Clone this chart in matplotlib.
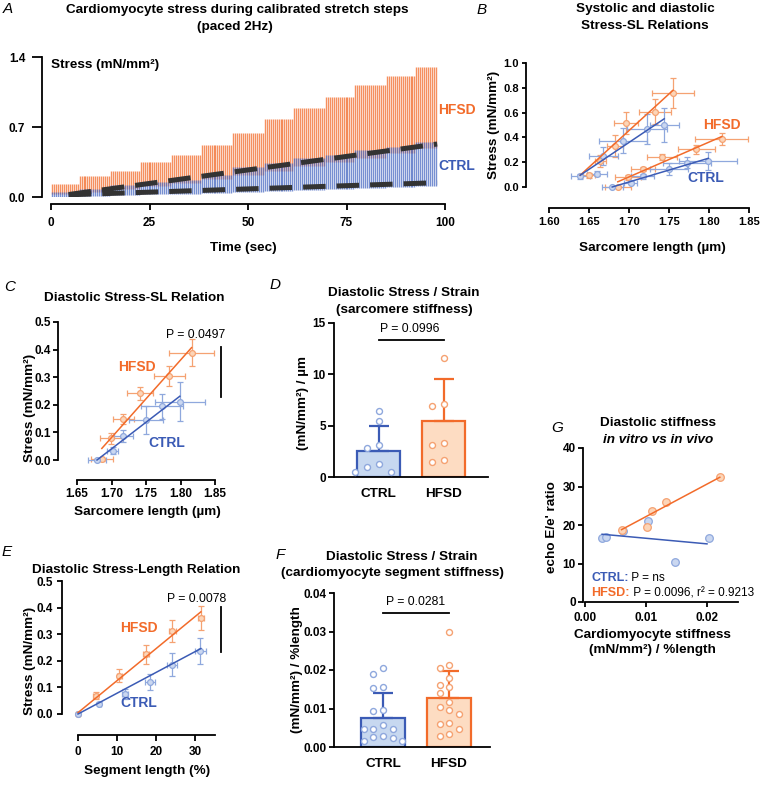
import numpy as np
import matplotlib
matplotlib.use("Agg")
import matplotlib.pyplot as plt

plt.rcParams['font.family'] = ['Liberation Sans', 'DejaVu Sans']
plt.rcParams['font.weight'] = 'bold'
plt.rcParams['axes.labelweight'] = 'bold'

# ======================= DATA =======================
# A: cardiomyocyte stress trace during stretch steps (levels per step, mN/mm2)
step_start_s = [0, 7.2, 15.0, 22.6, 30.3, 38.0, 45.9, 53.8, 61.7, 69.5, 77.2, 84.9, 92.6]
trace_end_s = 98
pacing_hz = 2
hfsd_systolic = [0.13, 0.21, 0.26, 0.35, 0.42, 0.52, 0.64, 0.78, 0.89, 1.00, 1.12, 1.21, 1.30]
hfsd_diastolic = [0.03, 0.05, 0.08, 0.11, 0.14, 0.18, 0.22, 0.26, 0.31, 0.35, 0.39, 0.44, 0.49]
ctrl_systolic = [0.05, 0.08, 0.12, 0.15, 0.17, 0.22, 0.30, 0.34, 0.39, 0.42, 0.47, 0.50, 0.55]
ctrl_diastolic = [0.00, 0.01, 0.02, 0.03, 0.03, 0.04, 0.05, 0.06, 0.07, 0.08, 0.09, 0.10, 0.11]
fit_time = [4.5, 98]
hfsd_dia_fit = [0.025, 0.53]
ctrl_dia_fit = [0.022, 0.143]

# B: systolic stress-SL
sys_hfsd_sl = [1.650, 1.664, 1.682, 1.696, 1.732, 1.755]
sys_hfsd_stress = [0.095, 0.208, 0.332, 0.514, 0.608, 0.757]
sys_hfsd_sl_err = [0.007, 0.007, 0.010, 0.015, 0.020, 0.026]
sys_hfsd_stress_err = [0.02, 0.05, 0.09, 0.09, 0.10, 0.12]
sys_ctrl_sl = [1.639, 1.660, 1.668, 1.692, 1.722, 1.744]
sys_ctrl_stress = [0.086, 0.108, 0.249, 0.373, 0.465, 0.500]
sys_ctrl_sl_err = [0.012, 0.013, 0.018, 0.030, 0.025, 0.018]
sys_ctrl_stress_err = [0.02, 0.02, 0.07, 0.10, 0.12, 0.14]
sys_hfsd_fit_sl = [1.639, 1.755]
sys_hfsd_fit_stress = [0.095, 0.78]
sys_ctrl_fit_sl = [1.639, 1.744]
sys_ctrl_fit_stress = [0.095, 0.55]

# B + C: diastolic stress-SL
dia_hfsd_sl = [1.686, 1.699, 1.717, 1.741, 1.784, 1.816]
dia_hfsd_stress = [0.002, 0.078, 0.147, 0.241, 0.304, 0.388]
dia_hfsd_sl_err = [0.016, 0.016, 0.015, 0.019, 0.023, 0.033]
dia_hfsd_stress_err = [0.005, 0.020, 0.018, 0.024, 0.036, 0.049]
dia_ctrl_sl = [1.679, 1.702, 1.717, 1.750, 1.773, 1.799]
dia_ctrl_stress = [0.000, 0.034, 0.087, 0.145, 0.195, 0.211]
dia_ctrl_sl_err = [0.013, 0.008, 0.014, 0.024, 0.030, 0.036]
dia_ctrl_stress_err = [0.004, 0.012, 0.020, 0.050, 0.045, 0.070]
dia_hfsd_fit_sl = [1.686, 1.816]
dia_hfsd_fit_stress = [0.042, 0.407]
dia_ctrl_fit_sl = [1.679, 1.799]
dia_ctrl_fit_stress = [0.0, 0.231]
p_dia_sl = "P = 0.0497"

# D: sarcomere stiffness
groups = ["CTRL", "HFSD"]
sarc_stiff_ctrl = [6.4, 5.42, 3.14, 2.81, 1.27, 0.95, 0.52, 0.52]
sarc_stiff_hfsd = [11.6, 7.1, 6.9, 3.3, 3.1, 1.7, 1.5]
sarc_stiff_mean = [2.58, 5.49]
sarc_stiff_sd = [2.35, 4.10]
p_sarc = "P = 0.0996"

# E: diastolic stress - segment length
seg_hfsd_len = [0, 4.5, 10.6, 17.4, 24.2, 31.5]
seg_hfsd_stress = [0.0, 0.069, 0.144, 0.224, 0.3125, 0.361]
seg_hfsd_len_err = [0, 0.6, 0.6, 0.8, 0.8, 0.8]
seg_hfsd_stress_err = [0.0, 0.012, 0.025, 0.035, 0.040, 0.045]
seg_ctrl_len = [0, 5.5, 12.0, 18.5, 24.1, 31.4]
seg_ctrl_stress = [0.0, 0.039, 0.075, 0.121, 0.186, 0.2375]
seg_ctrl_len_err = [0, 0.5, 0.8, 1.2, 1.2, 1.3]
seg_ctrl_stress_err = [0.0, 0.005, 0.020, 0.030, 0.045, 0.050]
seg_hfsd_fit_len = [0, 31.5]
seg_hfsd_fit_stress = [0.005, 0.384]
seg_ctrl_fit_len = [0, 31.5]
seg_ctrl_fit_stress = [0.0, 0.246]
p_seg = "P = 0.0078"

# F: segment stiffness
seg_stiff_ctrl = [0.0204, 0.0190, 0.0152, 0.0157, 0.0096, 0.0094, 0.0057, 0.0046, 0.0046,
                  0.0046, 0.0029, 0.0023, 0.0025, 0.0016, 0.0016]
seg_stiff_hfsd = [0.0298, 0.0213, 0.0205, 0.0178, 0.0162, 0.0155, 0.0140, 0.0118, 0.0105,
                  0.0095, 0.0085, 0.0063, 0.0060, 0.0048, 0.0035, 0.0028]
seg_stiff_mean = [0.0076, 0.0128]
seg_stiff_sd = [0.0065, 0.0070]
p_segstiff = "P = 0.0281"

# G: in vitro vs in vivo
g_ctrl_stiff = [0.0028, 0.0034, 0.0062, 0.0104, 0.0147, 0.0204]
g_ctrl_ee = [16.5, 16.8, 18.4, 21.0, 10.4, 16.5]
g_hfsd_stiff = [0.0060, 0.0102, 0.0110, 0.0132, 0.0221]
g_hfsd_ee = [18.7, 19.4, 23.6, 26.1, 32.4]
g_hfsd_fit_x = [0.0060, 0.0221]
g_hfsd_fit_y = [18.8, 32.4]
g_ctrl_fit_x = [0.0028, 0.0200]
g_ctrl_fit_y = [17.6, 15.1]
g_ctrl_stat = "P = ns"
g_hfsd_stat = "P = 0.0096, r² = 0.9213"

# ======================= STYLE =======================
OR = '#F26B2A'
BL = '#3B5BB5'
OR_FACE = '#FCD5B8'
OR_EDGE = '#F5A272'
BL_FACE = '#CAD7F0'
BL_EDGE = '#8FA8DD'
BAR_BL = '#C7D8F0'
BAR_OR = '#FDDCC2'

W, H = 760, 793
fig = plt.figure(figsize=(W / 100, H / 100), dpi=100)
fig.patch.set_facecolor('white')


def rect(x0, x1, y0, y1):
    return [x0 / W, 1 - y1 / H, (x1 - x0) / W, (y1 - y0) / H]


def ftext(x, y, s, **kw):
    kw.setdefault('ha', 'center')
    kw.setdefault('va', 'center')
    kw.setdefault('fontsize', 9.7)
    return fig.text(x / W, 1 - y / H, s, **kw)


def letter(x, y, s):
    ftext(x, y, s, fontsize=11, fontstyle='italic', fontweight='normal')


def style(ax, loff=0, boff=0, ylen=3.6, ypad=1.5, xlen=3.6, xpad=3, lsize=8.5):
    for s in ['top', 'right']:
        ax.spines[s].set_visible(False)
    ax.spines['left'].set_position(('outward', loff * 0.72))
    ax.spines['bottom'].set_position(('outward', boff * 0.72))
    for s in ['left', 'bottom']:
        ax.spines[s].set_linewidth(1.3)
    ax.tick_params(axis='y', width=1.3, length=ylen, pad=ypad, labelsize=lsize)
    ax.tick_params(axis='x', width=1.3, length=xlen, pad=xpad, labelsize=lsize)
    ax.set_facecolor('none')


def relation(ax, x, y, xe, ye, face, edge, fx, fy, line, ms=4.2):
    ax.errorbar(x, y, xerr=xe, yerr=ye, fmt='o', ms=ms, mfc=face, mec=edge, mew=0.9,
                ecolor=edge, elinewidth=0.9, capsize=2, capthick=0.9, zorder=2, clip_on=False)
    ax.plot(fx, fy, color=line, lw=1.1, zorder=3, clip_on=False)


def swarm(values, px_per_unit, spacing, mind):
    vals = np.asarray(values)
    order = np.argsort(-vals, kind='stable')
    placed = []
    offs = np.zeros(len(vals))
    for i in order:
        yy = vals[i] * px_per_unit
        dx = 0
        for k in [0, -1, 1, -2, 2, -3, 3, -4, 4, -5, 5]:
            dx = k * spacing
            if all((dx - px) ** 2 + (yy - py) ** 2 >= mind ** 2 for px, py in placed):
                break
        placed.append((dx, yy))
        offs[i] = dx
    return offs


def bars(ax, means, sds, dots, ypx, xpx, width, spacing, mind):
    faces = [BAR_BL, BAR_OR]
    edges = [BL, OR]
    dotedges = [BL_EDGE, OR_EDGE]
    for i in range(2):
        ax.bar(i, means[i], width=width, color=faces[i], edgecolor=edges[i], linewidth=1.6, zorder=1)
        ax.errorbar(i, means[i], yerr=[[0], [sds[i]]], color=edges[i], elinewidth=1.6,
                    capsize=7.5, capthick=1.6, zorder=2)
        offs = swarm(dots[i], ypx, spacing, mind)
        ax.plot(i + offs / xpx, dots[i], 'o', ms=4.3, mfc='white', mec=dotedges[i], mew=1.0,
                zorder=3, clip_on=False)
    ax.set_xticks([0, 1])
    ax.set_xticklabels(groups, fontsize=9.7)
    ax.tick_params(axis='x', length=0)


# ======================= PANEL A =======================
axA = fig.add_axes(rect(51, 445, 57, 197))
style(axA, loff=9, boff=7, ylen=7, ypad=5, xlen=4.2, xpad=5.5)
beats = np.arange(0.25, trace_end_s, 1 / pacing_hz)
idx = np.searchsorted(step_start_s, beats, side='right') - 1
axA.vlines(beats, np.array(hfsd_diastolic)[idx], np.array(hfsd_systolic)[idx],
           color=OR, lw=1.0, alpha=0.75, zorder=1)
axA.vlines(beats, np.array(ctrl_diastolic)[idx], np.array(ctrl_systolic)[idx],
           color='#4A6AC2', lw=1.0, alpha=0.75, zorder=2)
axA.plot(fit_time, hfsd_dia_fit, color='#333333', lw=3.6, ls=(0, (4.5, 2.2)), zorder=4)
axA.plot(fit_time, ctrl_dia_fit, color='#333333', lw=3.6, ls=(0, (4.5, 2.2)), zorder=4)
axA.set_xlim(0, 100)
axA.set_ylim(0, 1.4)
axA.set_xticks([0, 25, 50, 75, 100])
axA.set_yticks([0, 0.7, 1.4])
axA.set_yticklabels(['0.0', '0.7', '1.4'])
axA.spines['left'].set_bounds(0, 1.4)
axA.spines['bottom'].set_bounds(0, 100)
letter(8, 9, 'A')
ftext(237, 10, 'Cardiomyocyte stress during calibrated stretch steps')
ftext(235, 27, '(paced 2Hz)')
ftext(51, 65, 'Stress (mN/mm²)', ha='left')
ftext(243, 248, 'Time (sec)')
ftext(438, 110, 'HFSD', ha='left', color=OR, fontsize=10)
ftext(438, 166, 'CTRL', ha='left', color=BL, fontsize=10)

# ======================= PANEL B =======================
axB = fig.add_axes(rect(549, 749, 63, 187))
style(axB, loff=23, boff=21, ylen=3, ypad=2, xlen=3.6, xpad=3, lsize=8)
relation(axB, sys_hfsd_sl, sys_hfsd_stress, sys_hfsd_sl_err, sys_hfsd_stress_err,
         OR_FACE, OR_EDGE, sys_hfsd_fit_sl, sys_hfsd_fit_stress, OR)
relation(axB, sys_ctrl_sl, sys_ctrl_stress, sys_ctrl_sl_err, sys_ctrl_stress_err,
         BL_FACE, BL_EDGE, sys_ctrl_fit_sl, sys_ctrl_fit_stress, BL)
relation(axB, dia_hfsd_sl, dia_hfsd_stress, dia_hfsd_sl_err, dia_hfsd_stress_err,
         OR_FACE, OR_EDGE, dia_hfsd_fit_sl, dia_hfsd_fit_stress, OR)
relation(axB, dia_ctrl_sl, dia_ctrl_stress, dia_ctrl_sl_err, dia_ctrl_stress_err,
         BL_FACE, BL_EDGE, dia_ctrl_fit_sl, dia_ctrl_fit_stress, BL)
axB.set_xlim(1.60, 1.85)
axB.set_ylim(0, 1.0)
axB.set_xticks([1.60, 1.65, 1.70, 1.75, 1.80, 1.85])
axB.set_xticklabels(['1.60', '1.65', '1.70', '1.75', '1.80', '1.85'])
axB.set_yticks([0, 0.2, 0.4, 0.6, 0.8, 1.0])
axB.set_yticklabels(['0.0', '0.2', '0.4', '0.6', '0.8', '1.0'])
letter(482, 10, 'B')
ftext(645, 9, 'Systolic and diastolic')
ftext(645, 26, 'Stress-SL Relations')
ftext(494, 125, 'Stress (mN/mm²)', rotation=90)
ftext(652, 248, 'Sarcomere length (µm)')
ftext(703, 125, 'HFSD', ha='left', color=OR, fontsize=10)
ftext(687, 178, 'CTRL', ha='left', color=BL, fontsize=10)

# ======================= PANEL C =======================
axC = fig.add_axes(rect(77, 215, 322, 460))
style(axC, loff=19, boff=20, ylen=3.6, ypad=1.5, xlen=3.6, xpad=2.5)
relation(axC, dia_hfsd_sl, dia_hfsd_stress, dia_hfsd_sl_err, dia_hfsd_stress_err,
         OR_FACE, OR_EDGE, dia_hfsd_fit_sl, dia_hfsd_fit_stress, OR)
relation(axC, dia_ctrl_sl, dia_ctrl_stress, dia_ctrl_sl_err, dia_ctrl_stress_err,
         BL_FACE, BL_EDGE, dia_ctrl_fit_sl, dia_ctrl_fit_stress, BL)
axC.set_xlim(1.65, 1.85)
axC.set_ylim(0, 0.5)
axC.set_xticks([1.65, 1.70, 1.75, 1.80, 1.85])
axC.set_xticklabels(['1.65', '1.70', '1.75', '1.80', '1.85'])
axC.set_yticks([0, 0.1, 0.2, 0.3, 0.4, 0.5])
axC.set_yticklabels(['0.0', '0.1', '0.2', '0.3', '0.4', '0.5'])
axC.plot([1.859, 1.859], [0.227, 0.408], color='black', lw=1.3, clip_on=False)
letter(10, 287, 'C')
ftext(134, 298, 'Diastolic Stress-SL Relation')
ftext(30, 408, 'Stress (mN/mm²)', rotation=90)
ftext(147, 512, 'Sarcomere length (µm)')
ftext(196, 335, p_dia_sl, fontweight='normal', fontsize=8.8)
ftext(137, 367, 'HFSD', color=OR, fontsize=10)
ftext(167, 443, 'CTRL', color=BL, fontsize=10)

# ======================= PANEL D =======================
axD = fig.add_axes(rect(334, 488, 323, 477))
style(axD, ylen=4.3, ypad=1.5)
bars(axD, sarc_stiff_mean, sarc_stiff_sd, [sarc_stiff_ctrl, sarc_stiff_hfsd],
     ypx=154 / 15, xpx=65, width=0.66, spacing=12, mind=10)
axD.set_xlim(-0.685, 1.684)
axD.set_ylim(0, 15)
axD.set_yticks([0, 5, 10, 15])
axD.tick_params(axis='x', pad=8)
axD.plot([0, 1], [13.3, 13.3], color='black', lw=1.3, clip_on=False)
letter(275, 285, 'D')
ftext(404, 293, 'Diastolic Stress / Strain')
ftext(404, 310, '(sarcomere stiffness)')
ftext(303, 403, '(mN/mm²) / µm', rotation=90)
ftext(410, 329, p_sarc, fontweight='normal', fontsize=8.8)

# ======================= PANEL E =======================
axE = fig.add_axes(rect(78, 214.5, 581, 714))
style(axE, loff=16, boff=21, ylen=3.6, ypad=3, xlen=4.2, xpad=3.6)
relation(axE, seg_hfsd_len, seg_hfsd_stress, seg_hfsd_len_err, seg_hfsd_stress_err,
         OR_FACE, OR_EDGE, seg_hfsd_fit_len, seg_hfsd_fit_stress, OR)
relation(axE, seg_ctrl_len, seg_ctrl_stress, seg_ctrl_len_err, seg_ctrl_stress_err,
         BL_FACE, BL_EDGE, seg_ctrl_fit_len, seg_ctrl_fit_stress, BL)
axE.set_xlim(0, 35)
axE.set_ylim(0, 0.5)
axE.set_xticks([0, 10, 20, 30])
axE.set_yticks([0, 0.1, 0.2, 0.3, 0.4, 0.5])
axE.set_yticklabels(['0.0', '0.1', '0.2', '0.3', '0.4', '0.5'])
axE.spines['bottom'].set_bounds(0, 35)
axE.plot([36.7, 36.7], [0.233, 0.402], color='black', lw=1.3, clip_on=False)
letter(7, 552, 'E')
ftext(32, 570, 'Diastolic Stress-Length Relation', ha='left')
ftext(30, 661, 'Stress (mN/mm²)', rotation=90)
ftext(147, 771, 'Segment length (%)')
ftext(197, 599, p_seg, fontweight='normal', fontsize=8.8)
ftext(139, 628, 'HFSD', color=OR, fontsize=10)
ftext(139, 703, 'CTRL', color=BL, fontsize=10)

# ======================= PANEL F =======================
axF = fig.add_axes(rect(334, 490, 593, 747))
style(axF, ylen=3.6, ypad=1.5)
bars(axF, seg_stiff_mean, seg_stiff_sd, [seg_stiff_ctrl, seg_stiff_hfsd],
     ypx=154 / 0.04, xpx=66, width=0.667, spacing=9.5, mind=8)
axF.set_xlim(-0.742, 1.62)
axF.set_ylim(0, 0.04)
axF.set_yticks([0, 0.01, 0.02, 0.03, 0.04])
axF.set_yticklabels(['0.00', '0.01', '0.02', '0.03', '0.04'])
axF.tick_params(axis='x', pad=8)
axF.plot([0, 1], [0.0348, 0.0348], color='black', lw=1.3, clip_on=False)
letter(280, 555, 'F')
ftext(402, 557, 'Diastolic Stress / Strain')
ftext(392, 573, '(cardiomyocyte segment stiffness)')
ftext(297, 670, '(mN/mm²) / %length', rotation=90)
ftext(416, 602, p_segstiff, fontweight='normal', fontsize=8.8)

# ======================= PANEL G =======================
axG = fig.add_axes(rect(585, 737.5, 448, 602))
style(axG, loff=2, ylen=3.6, ypad=1.5, xlen=3.6, xpad=3.6)
axG.plot(g_ctrl_stiff, g_ctrl_ee, 'o', ms=5.5, mfc=BL_FACE, mec=BL_EDGE, mew=0.9, zorder=2)
axG.plot(g_hfsd_stiff, g_hfsd_ee, 'o', ms=5.5, mfc=OR_FACE, mec=OR_EDGE, mew=0.9, zorder=2)
axG.plot(g_hfsd_fit_x, g_hfsd_fit_y, color=OR, lw=1.1, zorder=3)
axG.plot(g_ctrl_fit_x, g_ctrl_fit_y, color=BL, lw=1.1, zorder=3)
axG.set_xlim(0, 0.025)
axG.set_ylim(0, 40)
axG.set_xticks([0, 0.01, 0.02])
axG.set_xticklabels(['0.00', '0.01', '0.02'])
axG.set_yticks([0, 10, 20, 30, 40])
letter(557, 428, 'G')
ftext(658, 423, 'Diastolic stiffness')
ftext(658, 440, 'in vitro vs in vivo', fontstyle='italic')
ftext(552, 527, "echo E/e' ratio", rotation=90)
ftext(652, 635, 'Cardiomyocyte stiffness')
ftext(652, 650, '(mN/mm²) / %length')
t1 = ftext(591, 578, 'CTRL:', ha='left', color=BL, fontsize=9)
axG.annotate(' ' + g_ctrl_stat, xy=(1, 0), xycoords=t1, va='bottom', ha='left',
             fontsize=8.5, fontweight='normal', color='black', annotation_clip=False)
t2 = ftext(591, 593, 'HFSD:', ha='left', color=OR, fontsize=9)
axG.annotate(' ' + g_hfsd_stat, xy=(1, 0), xycoords=t2, va='bottom', ha='left',
             fontsize=8.5, fontweight='normal', color='black', annotation_clip=False)

fig.savefig('out.png', dpi=100, facecolor='white')
